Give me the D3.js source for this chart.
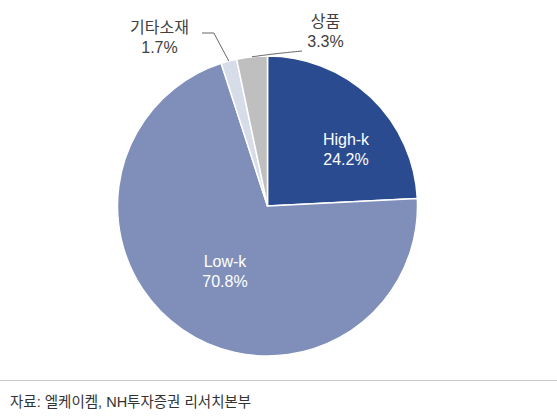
<!DOCTYPE html>
<html>
<head>
<meta charset="utf-8">
<script src="https://cdn.jsdelivr.net/npm/d3@7"></script>
<style>
  html, body { margin: 0; padding: 0; background: #fff; }
  svg { display: block; }
  text { font-family: "Liberation Sans", "Noto Sans CJK KR", sans-serif; }
</style>
</head>
<body>
<svg id="chart" width="557" height="416"></svg>
<script>
const categories = ["High-k", "Low-k", "기타소재", "상품"];
const shares = [24.2, 70.8, 1.7, 3.3];
const colors = ["#2B4B90", "#808FBA", "#D7DCE9", "#BFBFBF"];
const sourceNote = "자료: 엘케이켐, NH투자증권 리서치본부";

const W = 557, H = 416;
const cx = 267.5, cy = 206, R = 150;

const svg = d3.select("#chart");
const g = svg.append("g").attr("transform", `translate(${cx},${cy})`);

const data = categories.map((c, i) => ({ name: c, value: shares[i], color: colors[i] }));
const pie = d3.pie().value(d => d.value).sort(null);
const arcs = pie(data);
const arc = d3.arc().innerRadius(0).outerRadius(R);

g.selectAll("path").data(arcs).join("path")
  .attr("d", arc)
  .attr("fill", d => d.data.color)
  .attr("stroke", "#fff")
  .attr("stroke-width", 1.5)
  .attr("stroke-linejoin", "round");

// Label layout (positions relative to pie centre)
const labelLayout = {
  "High-k": { x: 78.5, y: -61, inside: true },
  "Low-k": { x: -42.5, y: 61, inside: true },
  "기타소재": { x: -108, y: -173, inside: false, anchor: [-53.5, -173] },
  "상품": { x: 58, y: -179, inside: false, anchor: [34.5, -155] }
};

const edgePoint = (a, r) => {
  const m = (a.startAngle + a.endAngle) / 2;
  return [r * Math.sin(m), -r * Math.cos(m)];
};

arcs.forEach(a => {
  const L = labelLayout[a.data.name];
  const fill = L.inside ? "#ffffff" : "#404040";
  const t = g.append("text")
    .attr("text-anchor", "middle")
    .attr("font-size", 16)
    .attr("fill", fill);
  t.append("tspan").attr("x", L.x).attr("y", L.y).text(a.data.name);
  t.append("tspan").attr("x", L.x).attr("y", L.y + 20).text(d3.format(".1f")(a.data.value) + "%");
  if (!L.inside) {
    const p = edgePoint(a, R);
    let pts;
    if (a.data.name === "기타소재") {
      pts = [p, [p[0] - 15, L.anchor[1]], [L.anchor[0] - 12, L.anchor[1]]];
    } else {
      pts = [p, [p[0] + 22, p[1] - 3], L.anchor];
    }
    g.append("path")
      .attr("d", d3.line().curve(a.data.name === "상품" ? d3.curveBasis : d3.curveLinear)(pts))
      .attr("fill", "none")
      .attr("stroke", "#404040")
      .attr("stroke-width", 0.8);
  }
});

// Footer
svg.append("line")
  .attr("x1", 0).attr("x2", W)
  .attr("y1", 380.5).attr("y2", 380.5)
  .attr("stroke", "#c8c8c8").attr("stroke-width", 1);

svg.append("text")
  .attr("x", 10).attr("y", 407)
  .attr("font-size", 14.5)
  .attr("fill", "#333")
  .text(sourceNote);
</script>
</body>
</html>
